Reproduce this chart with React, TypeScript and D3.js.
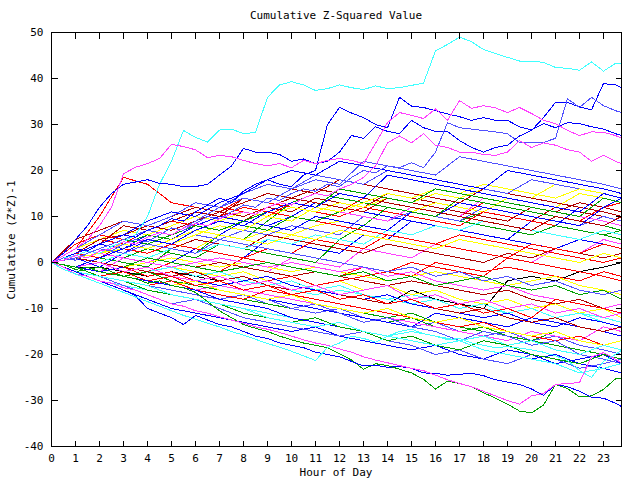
import React from "react";
import * as d3 from "d3";

// axis ticks
const hourTicks = [0, 1, 2, 3, 4, 5, 6, 7, 8, 9, 10, 11, 12, 13, 14, 15, 16, 17, 18, 19, 20, 21, 22, 23];
const valueTicks = [-40, -30, -20, -10, 0, 10, 20, 30, 40, 50];

// sample times (hours)
const halfHours = [0, 0.5, 1, 1.5, 2, 2.5, 3, 3.5, 4, 4.5, 5, 5.5, 6, 6.5, 7, 7.5, 8, 8.5, 9, 9.5,
  10, 10.5, 11, 11.5, 12, 12.5, 13, 13.5, 14, 14.5, 15, 15.5, 16, 16.5, 17, 17.5, 18, 18.5, 19, 19.5,
  20, 20.5, 21, 21.5, 22, 22.5, 23, 23.5, 23.75];
const hours = [0, 1, 2, 3, 4, 5, 6, 7, 8, 9, 10, 11, 12, 13, 14, 15, 16, 17, 18, 19, 20, 21, 22, 23, 23.75];

// the lines that stand out of the bundle (half-hour samples)
const cyanTop = [0, 1, 1.5, 2.5, 2, 3.5, 4.5, 6, 10, 17,
  22, 28.7, 27.2, 26.2, 28.8, 29, 28, 28.3, 35.9, 38.6,
  39.3, 38.6, 37.4, 37.8, 38.6, 38, 37.6, 38.4, 37.8, 38,
  38.5, 39, 46, 47.4, 49, 48, 46.3, 45.4, 44.6, 43.8,
  43.8, 43.5, 42.4, 42.2, 41.8, 43.6, 41.6, 43.3, 43.2];
const blueUpper = [0, 1.5, 3, 2.5, 4, 5, 6, 5.5, 7, 8,
  9.5, 9, 11, 12.5, 14, 13, 15.5, 17, 18, 17,
  16.5, 19, 20, 30, 33.7, 32.5, 31.5, 30, 29.3, 35.9,
  34, 33.7, 33, 32.3, 31.7, 30.9, 31.5, 30.9, 30.9, 29.5,
  28.8, 30.2, 29.3, 30.4, 30.2, 29.5, 29, 28, 27.6];
const blueRising = [0, 2, 5, 8, 12, 15, 17, 17.5, 18, 17.2,
  17, 16.5, 16.5, 17, 19, 21, 24.8, 24, 24, 23.5,
  22, 22.5, 21.5, 22, 24, 27.6, 27, 29.5, 28.5, 28,
  30.9, 29.3, 28.5, 28.5, 26.5, 25, 24, 25, 25.5, 27.5,
  28.7, 31.5, 34.8, 34.8, 33.8, 33.2, 38.9, 38.6, 38];
const lightBlueUpper = [0, 1, 0.5, 2, 3, 2.5, 4, 5, 4.5, 6,
  7.5, 7, 8.5, 10, 9.5, 11, 12.5, 12, 14, 13.5,
  15, 16, 15.5, 17, 16.5, 18.5, 20, 19.5, 21, 20.6,
  21.7, 20.6, 24, 30.4, 29.3, 29, 28.7, 28.4, 28, 26.1,
  26.1, 26.1, 27, 35.6, 33.7, 35.9, 34.1, 33, 32.6];
const magentaUpper = [0, 1.5, 3, 5, 8, 12, 19.3, 20.7, 21.5, 22.6,
  25.7, 25.2, 24.5, 22.8, 23.3, 23, 22.2, 21.5, 21, 21.5,
  20.6, 22.2, 21.5, 22.2, 22.6, 22.2, 21.5, 25.9, 30.4, 32.6,
  32, 31.3, 33.4, 30.9, 35.2, 33.5, 34.1, 33.6, 32.6, 33.7,
  32.4, 30.9, 30.2, 28.7, 27.6, 28.4, 28.3, 27.6, 27];
const magentaMid = [0, 0.5, 1.5, 1, 2.5, 3, 4.5, 4, 5.5, 6.5,
  6, 7.5, 8.5, 8, 9.5, 10.5, 11, 10.5, 12, 13,
  12.5, 14, 15, 14.5, 16, 17, 18.5, 21, 26, 27.5,
  26, 28, 25.5, 25, 24, 24, 23.5, 23.3, 24, 26.5,
  25, 26, 25.5, 24.5, 24, 22, 23.3, 22, 21.5];
const greenLow = [0, -0.5, -1.5, -1, -2, -2.5, -3, -3.5, -4.5, -4,
  -5, -5.5, -6.5, -8.5, -10.5, -12, -13.5, -14.3, -15, -16,
  -16.8, -17.5, -18, -18.5, -19.8, -21.2, -23.2, -22, -22.4, -23.2,
  -24, -25.4, -27.5, -25.8, -26.3, -27, -28.3, -29.5, -30.8, -32.3,
  -32.7, -31, -26.5, -27.4, -29.2, -29, -27.6, -25.3, -25.2];
const blueLow = [0, -1, -2, -3, -4, -5, -6, -7.2, -10, -11,
  -12, -13.5, -11.5, -12.5, -13.5, -14, -15, -16, -16.5, -17.5,
  -18, -18.5, -19.5, -20, -20.5, -21.5, -22.5, -22.3, -22.8, -22.6,
  -23, -24, -24.1, -24.5, -24.3, -24.1, -24.6, -25.5, -26, -26.5,
  -27.5, -28.9, -26.5, -27, -28, -29.3, -29.5, -30.6, -31.3];
const magentaLow = [0, -1, -2.5, -3, -4, -4.5, -5.5, -6, -7, -8,
  -9, -9.5, -10.5, -11, -11.8, -12.5, -13.2, -14, -14.5, -15.2,
  -16, -16.8, -17.5, -18, -18.8, -19.5, -20.5, -21.2, -21.8, -22.4,
  -23, -23.5, -24.5, -25.5, -26.3, -27, -28, -29, -30, -30.8,
  -29, -28.5, -26.5, -26.3, -26.1, -20.5, -19.6, -21, -21.8];
const cyanLow = [0, -1.5, -2.5, -3.5, -4.5, -5.5, -6.5, -7.5, -8.5, -9.5,
  -10.5, -11.5, -12.3, -13.2, -14, -15, -15.8, -16.7, -17.6, -18.4,
  -19.3, -20.3, -21.3, -18.5, -17.5, -16, -16.5, -17.3, -16, -15,
  -14.5, -15.5, -16, -16.8, -16.5, -17.5, -18, -18.5, -18.3, -18.6,
  -19, -19.5, -20.3, -21.3, -23.5, -25, -21.5, -20, -19.1];

// the dense bundle (hourly samples)
const bundleValues = [
  [0, 3, 5, 4, 7, 6, 9, 12, 11, 10, 13, 12, 11, 14, 13, 12, 11, 10, 13, 12, 11, 10, 9, 12, 13],
  [0, 2, 1, 4, 6, 5, 8, 10, 9, 12, 11, 14, 13, 12, 15, 14, 13, 12, 11, 10, 9, 12, 11, 10, 9],
  [0, -1, 1, 0, -1, 3, 2, 6, 5, 9, 13, 15, 14, 13, 12, 11, 10, 9, 11, 10, 9, 8, 7, 6, 7],
  [0, 1, -1, 2, 1, 0, 3, 2, 1, 5, 4, 3, 2, 6, 5, 9, 8, 7, 6, 5, 9, 8, 12, 11, 10],
  [0, 2, 4, 3, 5, 4, 3, 6, 5, 7, 6, 8, 9, 8, 7, 11, 13, 12, 11, 14, 13, 12, 15, 14, 13],
  [0, -1, -2, 1, 0, 2, 1, 0, -1, -2, 1, 0, -1, 3, 2, 1, 4, 3, 2, 1, 0, 3, 2, 5, 4],
  [0, -1, -2, -3, -2, -3, -4, -5, -4, -5, -6, -7, -6, -7, -8, -7, -8, -9, -10, -11, -10, -9, -11, -12, -13],
  [0, 1, 0, -1, -2, 0, -1, -2, 1, 0, -1, -2, -3, -1, -2, -3, 0, -1, -2, -1, -2, -3, -4, -2, -3],
  [0, -1, -1, -2, -3, -2, -3, -4, -3, -5, -4, -6, -7, -8, -9, -6, -8, -9, -10, -4, -3, -4, -2, -1, 0],
  [0, -2, -3, -4, -5, -6, -7, -8, -7, -9, -10, -11, -10, -12, -13, -14, -13, -15, -16, -15, -17, -16, -18, -19, -20],
  [0, -2, -1, -3, -4, -5, -6, -7, -8, -9, -10, -9, -11, -12, -13, -12, -14, -15, -14, -16, -17, -15, -17, -18, -17],
  [0, 1, 3, 2, 1, 0, -1, 0, -1, -2, -3, -2, -3, -4, -5, -4, -5, -6, -7, -6, -8, -9, -8, -10, -11],
  [0, 1, 0, -1, 0, -1, -2, -3, -2, -4, -3, -5, -4, -6, -5, -7, -6, -8, -9, -8, -10, -9, -11, -10, -12],
  [0, 3, 10, 18.5, 17, 13, 12, 11, 14, 13, 12, 11, 10, 12, 11, 10, 9, 8, 11, 10, 9, 8, 7, 6, 5],
  [0, -1, -2, -3, -4, -3, -5, -6, -7, -8, -9, -10, -11, -12, -13, -14, -11, -12, -13, -14, -12, -13, -14, -15, -16],
  [0, -1, -2, -3, -4, -5, -6, -5, -6, -7, -8, -9, -10, -11, -12, -13, -14, -15, -16, -17, -15, -16, -17, -14, -15],
  [0, 1, 0, -1, -2, -1, -3, -2, -4, -5, -4, -6, -5, -7, -8, -9, -8, -10, -9, -11, -10, -12, -11, -13, -14],
  [0, 1, 2, 1, 3, 2, 1, 4, 3, 2, 1, 0, 5, 8, 12, 11, 10, 9, 8, 7, 6, 8, 7, 6, 5],
  [0, 2, 1, 3, 2, 4, 6, 5, 7, 6, 8, 7, 6, 10, 9, 11, 10, 9, 12, 11, 10, 9, 8, 10, 9],
  [0, 1, 2, 1, 0, 1, 0, -1, 0, -1, -2, -1, -2, -3, -4, -3, -2, -3, -4, -5, -4, -3, -5, -6, -7],
  [0, -1, -2, -1, -3, -2, -4, -3, -5, -4, -3, -5, -4, -3, -2, 0, -1, -2, -3, 1, 0, -1, -2, -3, -4],
  [0, -1, 0, 2, 1, 3, 5, 4, 3, 6, 5, 4, 3, 2, 4, 3, 2, 1, 0, 2, 1, 3, 2, 1, 2],
  [0, 1, 3, 2, 5, 4, 7, 6, 9, 8, 10, 13, 12, 11, 10, 9, 8, 7, 6, 5, 4, 3, 5, 4, 3],
  [0, 1, 3, 5, 4, 6, 8, 10, 9, 11, 13, 12, 11, 10, 9, 12, 11, 10, 14, 13, 12, 11, 10, 9, 8],
  [0, 1, 0, 2, 1, 3, 2, 4, 3, 5, 4, 6, 5, 4, 7, 6, 8, 7, 9, 8, 7, 6, 5, 7, 6],
  [0, -1, -2, -3, -2, -4, -5, -6, -7, -8, -7, -9, -10, -11, -12, -11, -13, -14, -15, -16, -17, -18, -19, -20, -21],
  [0, 3, 5, 7, 6, 8, 10, 9, 11, 10, 12, 11, 13, 12, 14, 13, 15, 14, 16, 15, 14, 17, 16, 15, 14],
  [0, -2, -3, -4, -5, -4, -6, -7, -8, -6, -7, -8, -9, -10, -11, -12, -13, -14, -13, -15, -16, -17, -16, -18, -19],
  [0, -1, -2, -3, -4, -5, -4, -6, -7, -8, -10, -9, -11, -13, -12, -14, -15, -17, -15, -16, -18, -17, -20, -21, -22],
  [0, 2, 5, 6, 8, 7, 9, 11, 10, 12, 14, 13, 12, 11, 14, 13, 12, 11, 10, 9, 12, 11, 13, 12, 11],
  [0, -1, -2, -1, -2, -3, -4, -5, -4, -3, -5, -6, -7, -8, -7, -9, -10, -11, -12, -11, -13, -14, -12, -13, -14],
  [0, 1, 2, 1, 0, -1, 0, 1, 0, -1, 0, -1, -2, -1, -3, -2, -4, -5, -6, -5, -7, -8, -9, -10, -9],
  [0, -1, -2, -3, -4, -5, -4, -6, -7, -8, -7, -9, -10, -11, -10, -12, -13, -12, -14, -15, -16, -15, -17, -18, -17],
  [0, 4, 6, 5, 7, 9, 8, 10, 12, 11, 10, 9, 8, 7, 6, 5, 4, 6, 5, 4, 3, 2, 1, 0, 1],
  [0, 1, 0, -1, 1, 0, -1, -2, -1, 0, -1, -2, -3, -2, -4, -3, -5, -4, -3, -5, -6, -5, -7, -6, -8],
  [0, -2, -4, -5, -6, -7, -8, -9, -10, -11, -12, -13, -14, -15, -16, -15, -16, -17, -16, -18, -17, -19, -20, -18, -19],
  [0, 2, 4, 3, 6, 5, 8, 10, 9, 8, 7, 10, 9, 8, 7, 11, 10, 13, 12, 11, 10, 9, 8, 12, 14],
  [0, 1, 0, -1, -2, -3, -2, -4, -3, -5, -6, -5, -7, -8, -9, -8, -10, -11, -10, -12, -13, -12, -14, -15, -14],
  [0, 2, 1, 3, 2, 4, 3, 2, 1, 3, 2, 5, 4, 3, 6, 5, 4, 3, 2, 1, 4, 3, 2, 4, 3],
  [0, -1, 0, -2, -1, -3, -4, -3, -5, -4, -6, -5, -7, -6, -5, -8, -7, -9, -8, -10, -9, -11, -10, -12, -11],
  [0, 3, 2, 4, 6, 5, 7, 9, 8, 7, 10, 9, 11, 13, 12, 11, 10, 14, 13, 12, 11, 10, 9, 8, 7],
  [0, 1, 2, 4, 3, 5, 7, 6, 5, 4, 6, 5, 7, 6, 5, 4, 3, 5, 4, 3, 2, 1, 0, 2, 1],
  [0, 1, 3, 2, 4, 3, 2, 5, 4, 3, 2, 1, 0, -1, -2, -1, -3, -2, -4, -3, -5, -4, -6, -7, -6],
  [0, -1, -3, -2, -4, -3, -5, -4, -6, -5, -7, -6, -8, -7, -9, -8, -10, -9, -11, -10, -12, -8, -9, -10, -11],
  [0, 5, 7, 9, 8, 10, 12, 11, 13, 15, 14, 16, 15, 14, 13, 12, 11, 10, 9, 8, 7, 10, 9, 8, 10],
  [0, -1, -2, -3, -4, -5, -6, -8, -9, -10, -12, -13, -14, -15, -16, -17, -18, -17, -19, -20, -21, -20, -22, -23, -24],
  [0, 2, 4, 8, 7, 9, 11, 10, 14, 13, 16, 15, 18, 17, 16, 15, 14, 13, 16, 15, 14, 13, 12, 11, 10],
  [0, 3, 6, 9, 8, 10, 13, 12, 15, 17, 16, 19, 18, 17, 20, 19, 18, 17, 16, 15, 18, 17, 16, 15, 14],
  [0, 1, 2, 3, 5, 4, 6, 8, 7, 10, 9, 12, 11, 13, 15, 14, 16, 15, 17, 16, 15, 14, 16, 15, 14],
  [0, 1, 3, 5, 4, 6, 8, 7, 9, 11, 13, 12, 16, 15, 14, 13, 16, 15, 14, 13, 12, 11, 10, 14, 13],
  [0, 2, 4, 6, 9, 11, 10, 13, 15, 18, 20, 19, 22, 21, 20, 19, 18, 17, 16, 20, 19, 18, 17, 16, 15],
  [0, 1, 3, 5, 7, 6, 9, 12, 14, 13, 16, 18, 17, 22, 21, 20, 19, 23, 22, 21, 20, 19, 18, 17, 16],
  [0, -1, 1, 3, 5, 4, 7, 9, 8, 11, 13, 12, 15, 14, 19, 18, 17, 16, 15, 14, 13, 12, 11, 15, 14],
  [0, -2, -4, -6, -8, -10, -11, -12, -13, -14, -15, -14, -16, -17, -18, -19, -18, -20, -21, -19, -20, -22, -21, -20, -22],
  [0, -2, -3, -5, -7, -9, -8, -10, -12, -13, -14, -15, -16, -15, -17, -18, -20, -19, -21, -22, -20, -21, -23, -22, -21],
  [0, -1, -3, -4, -6, -7, -8, -9, -11, -12, -13, -12, -14, -15, -17, -16, -18, -19, -17, -18, -20, -21, -22, -20, -21],
  [0, -2, -3, -4, -5, -7, -8, -9, -10, -12, -13, -14, -13, -15, -16, -17, -18, -17, -19, -20, -21, -22, -24, -23, -22],
];
const bundleColors = [
  "#ff0000", "#b00000", "#00a000", "#0000ff", "#ffff00", "#ff40ff", "#40ffff", "#ff0000", "#000000", "#5050ff",
  "#00a000", "#b00000", "#ffff00", "#ff0000", "#0000ff", "#ff40ff", "#40ffff", "#00a000", "#5050ff", "#ffff00",
  "#ff0000", "#b00000", "#0000ff", "#ff40ff", "#40ffff", "#00a000", "#ffff00", "#ff0000", "#5050ff", "#b00000",
  "#0000ff", "#ff40ff", "#ffff00", "#ff0000", "#00a000", "#40ffff", "#0000ff", "#b00000", "#ff0000", "#ff40ff",
  "#00a000", "#ffff00", "#5050ff", "#ff0000", "#b00000", "#0000ff", "#b00000", "#5050ff", "#ffff00", "#00a000",
  "#0000ff", "#5050ff", "#0000ff", "#0000ff", "#5050ff", "#00a000", "#40ffff",
];

const standout = [
  { values: cyanTop, color: "#40ffff" },
  { values: blueUpper, color: "#0000ff" },
  { values: blueRising, color: "#0000ff" },
  { values: lightBlueUpper, color: "#5050ff" },
  { values: magentaUpper, color: "#ff40ff" },
  { values: magentaMid, color: "#ff40ff" },
  { values: greenLow, color: "#00a000" },
  { values: blueLow, color: "#0000ff" },
  { values: magentaLow, color: "#ff40ff" },
  { values: cyanLow, color: "#40ffff" },
];

const font = "'DejaVu Sans Mono', monospace";

export default function App() {
  const left = 51.5, right = 621.5, top = 32.5, bottom = 446.5;
  const x = d3.scaleLinear().domain([0, 23.75]).range([left, right]);
  const y = d3.scaleLinear().domain([-40, 50]).range([bottom, top]);

  const pathFor = (times: number[], values: number[]) =>
    d3.line<number>()
      .x((_, i) => x(times[i]))
      .y(d => y(d))(values) || "";

  return (
    <svg width={640} height={480} style={{ position: "absolute", left: 0, top: 0 }}>
      <rect width={640} height={480} fill="#fff" />
      <defs>
        <clipPath id="plot">
          <rect x={left} y={top} width={right - left} height={bottom - top} />
        </clipPath>
      </defs>

      <g clipPath="url(#plot)" fill="none" strokeWidth={1} shapeRendering="crispEdges">
        {bundleValues.map((vals, i) => (
          <path key={"b" + i} d={pathFor(hours, vals)} stroke={bundleColors[i % bundleColors.length]} />
        ))}
        {standout.map((s, i) => (
          <path key={"s" + i} d={pathFor(halfHours, s.values)} stroke={s.color} />
        ))}
      </g>

      {/* frame and ticks */}
      <g stroke="#000" strokeWidth={1} shapeRendering="crispEdges" fill="none">
        <rect x={left} y={top} width={right - left} height={bottom - top} />
        {hourTicks.map(h => (
          <g key={"xt" + h}>
            <line x1={x(h)} x2={x(h)} y1={bottom} y2={bottom - 6} />
            <line x1={x(h)} x2={x(h)} y1={top} y2={top + 6} />
          </g>
        ))}
        {valueTicks.map(v => (
          <g key={"yt" + v}>
            <line x1={left} x2={left + 6} y1={y(v)} y2={y(v)} />
            <line x1={right} x2={right - 6} y1={y(v)} y2={y(v)} />
          </g>
        ))}
      </g>

      <g fontFamily={font} fontSize={11} fill="#000">
        {valueTicks.map(v => (
          <text key={"yl" + v} x={left - 8} y={y(v)} dy="0.35em" textAnchor="end">{v}</text>
        ))}
        {hourTicks.map(h => (
          <text key={"xl" + h} x={x(h)} y={462} textAnchor="middle">{h}</text>
        ))}
        <text x={336} y={19} textAnchor="middle">Cumulative Z-Squared Value</text>
        <text x={336} y={476} textAnchor="middle">Hour of Day</text>
        <text transform="translate(15,240) rotate(-90)" textAnchor="middle">Cumulative (Z*Z)-1</text>
      </g>
    </svg>
  );
}
